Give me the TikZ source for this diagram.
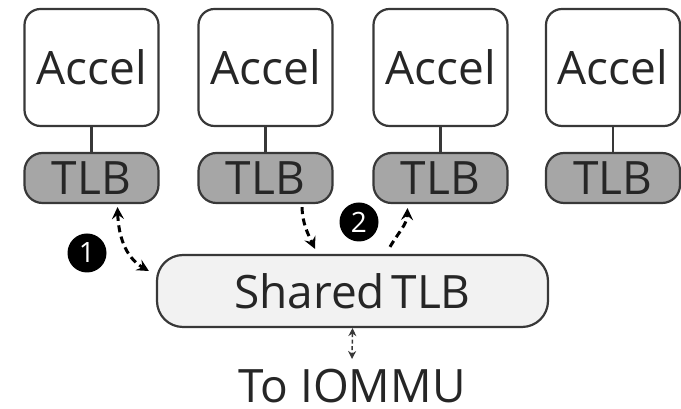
\documentclass[tikz,border=0pt]{standalone}
\usepackage{fontspec}
\setmainfont{Open Sans}
\usetikzlibrary{arrows.meta}
\definecolor{edge}{HTML}{383838}
\definecolor{ink}{HTML}{262626}
\definecolor{tlbgray}{HTML}{A6A6A6}
\definecolor{sharedfill}{HTML}{F2F2F2}
\tikzset{
  lbl/.style={font=\fontsize{46}{50}\selectfont, text=ink, inner sep=0pt},
  accbox/.style={lbl, draw=edge, line width=2.2pt, fill=white, rounded corners=16pt,
    minimum width=134pt, minimum height=117pt},
  tlbbox/.style={lbl, draw=edge, line width=2.2pt, fill=tlbgray, rounded corners=18pt,
    minimum width=134pt, minimum height=50pt},
  sharedbox/.style={lbl, draw=edge, line width=2.2pt, fill=sharedfill, rounded corners=26pt,
    minimum width=391pt, minimum height=72pt},
  link/.style={draw=edge, line width=2.2pt},
  walktip/.tip={Stealth[length=12pt,width=12pt,inset=4.5pt]},
  walk/.style={black, line width=3pt, dash pattern=on 7pt off 4.5pt, -walktip},
  walkboth/.style={walk, walktip-walktip},
  iotip/.tip={Stealth[length=8pt,width=8pt]},
  iolink/.style={draw=edge, line width=1.5pt, dash pattern=on 4pt off 2.5pt, iotip-iotip},
  badge/.style={circle, fill=black, minimum size=39pt, inner sep=0pt, text=white,
    font=\fontsize{28}{30}\selectfont}
}
\begin{document}
\begin{tikzpicture}[x=1pt,y=1pt]
  \useasboundingbox (0,0) rectangle (681,409);

  % accelerators and their private TLBs
  \foreach \i/\cx in {1/91.5, 2/265.5, 3/440.5, 4/613} {
    \node[accbox] (a\i) at (\cx,341.5) {Accel};
    \node[tlbbox] (t\i) at (\cx,231) {TLB};
    \draw[link] (a\i.south) -- (t\i.north);
  }

  % shared TLB and the path to the IOMMU
  \node[sharedbox] (sh) at (352.5,118) {Shared\hspace{-0.12em} TLB};
  \node[lbl, anchor=base] (io) at (352,6) {To IOMMU};
  \coordinate (ioend) at (352,50);
  \draw[iolink] (sh.south) -- (ioend);

  % step markers
  \node[badge] (b1) at (87,156) {1};
  \node[badge] (b2) at (359,187) {2};

  % step 1: private TLB <-> shared TLB
  \draw[walkboth] ([xshift=26pt,yshift=-3pt]t1.south) to[out=-88,in=150]
    ([xshift=-7pt,yshift=20pt]sh.west);

  % step 2: shared TLB fills a neighbouring TLB
  \draw[walk] ([xshift=36.5pt,yshift=-3pt]t2.south) to[out=-88,in=115]
    ([xshift=-37.5pt,yshift=5pt]sh.north);
  \draw[walk] ([xshift=37.5pt,yshift=7pt]sh.north) to[out=60,in=-92]
    ([xshift=-33pt,yshift=-4pt]t3.south);
\end{tikzpicture}
\end{document}
